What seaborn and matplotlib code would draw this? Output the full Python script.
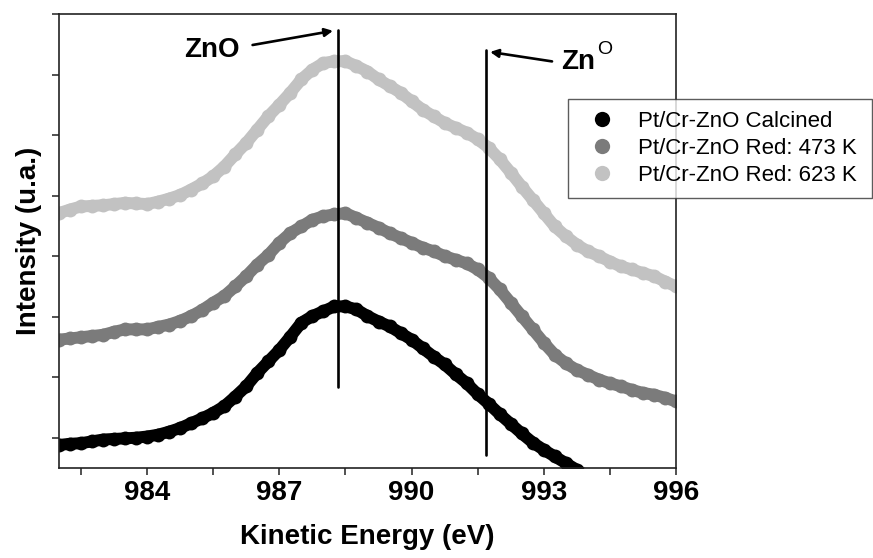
import numpy as np
import pandas as pd
import seaborn as sns
import matplotlib
matplotlib.use("Agg")
import matplotlib.pyplot as plt
from matplotlib.lines import Line2D

# Kinetic energy grid (eV) and normalised, vertically offset intensities
energy = np.arange(982.0, 996.01, 0.25)

calcined = [-0.12, -0.10, -0.09, -0.06, -0.03, -0.02, -0.01, 0.00, 0.02, 0.05,
            0.10, 0.16, 0.24, 0.32, 0.41, 0.52, 0.68, 0.85, 1.07, 1.26,
            1.45, 1.67, 1.90, 2.01, 2.09, 2.17, 2.17, 2.12, 2.01, 1.92,
            1.84, 1.73, 1.62, 1.48, 1.34, 1.21, 1.05, 0.90, 0.72, 0.56,
            0.39, 0.23, 0.07, -0.08, -0.20, -0.31, -0.42, -0.53, -0.65]
red_473 = [1.62, 1.64, 1.66, 1.68, 1.70, 1.75, 1.79, 1.79, 1.79, 1.83,
           1.87, 1.93, 2.01, 2.11, 2.23, 2.34, 2.50, 2.67, 2.86, 3.02,
           3.22, 3.38, 3.49, 3.60, 3.66, 3.69, 3.71, 3.63, 3.55, 3.47,
           3.38, 3.30, 3.22, 3.14, 3.08, 3.00, 2.94, 2.88, 2.78, 2.64,
           2.45, 2.23, 2.01, 1.79, 1.57, 1.37, 1.23, 1.12, 1.04, 0.96,
           0.90, 0.85, 0.79, 0.74, 0.71, 0.66, 0.60]
red_623 = [3.71, 3.77, 3.82, 3.83, 3.84, 3.86, 3.88, 3.87, 3.86, 3.90,
           3.95, 4.01, 4.10, 4.20, 4.32, 4.48, 4.68, 4.87, 5.09, 5.31,
           5.50, 5.70, 5.92, 6.08, 6.19, 6.22, 6.22, 6.14, 6.05, 5.92,
           5.81, 5.70, 5.56, 5.42, 5.31, 5.20, 5.12, 5.04, 4.93, 4.79,
           4.60, 4.38, 4.15, 3.93, 3.71, 3.49, 3.33, 3.19, 3.08, 3.00,
           2.91, 2.83, 2.78, 2.72, 2.67, 2.58, 2.50]

labels = ["Pt/Cr-ZnO Calcined", "Pt/Cr-ZnO Red: 473 K", "Pt/Cr-ZnO Red: 623 K"]
colors = ["#000000", "#7b7b7b", "#c2c2c2"]

frames = []
for lab, vals in zip(labels, [calcined, red_473, red_623]):
    frames.append(pd.DataFrame({"energy": energy[:len(vals)], "intensity": vals, "sample": lab}))
df = pd.concat(frames, ignore_index=True)

sns.set_style("ticks")
plt.rcParams["font.family"] = ["Liberation Sans", "DejaVu Sans"]
plt.rcParams.update({"text.color": "black", "axes.labelcolor": "black",
                     "xtick.color": "black", "ytick.color": "black",
                     "axes.edgecolor": "#222222"})

fig = plt.figure(figsize=(8.73, 5.58), dpi=100)
ax = fig.add_axes([0.0676, 0.1613, 0.7067, 0.8136])

sns.lineplot(data=df, x="energy", y="intensity", hue="sample",
             palette=dict(zip(labels, colors)), hue_order=labels[::-1],
             marker="o", markersize=10, markeredgewidth=0, linewidth=8.6,
             solid_capstyle="round", solid_joinstyle="round",
             sort=True, legend=False, ax=ax)

ax.set_xlim(982, 996)
ax.set_ylim(-0.5, 7)
ax.set_xticks([984, 987, 990, 993, 996])
ax.set_xticks(np.arange(982.5, 996, 1.5), minor=True)
ax.set_yticks(np.arange(0, 8, 1))
ax.set_yticklabels([])
ax.tick_params(axis="both", which="both", direction="out", length=5, width=1.1,
               color="#222222", labelcolor="black")
ax.tick_params(axis="x", labelsize=20)
for t in ax.get_xticklabels():
    t.set_fontweight("bold")
for s in ax.spines.values():
    s.set_linewidth(1.2)
    s.set_color("#222222")

ax.set_xlabel("Kinetic Energy (eV)", fontsize=20, fontweight="bold", labelpad=13)
ax.set_ylabel("Intensity (u.a.)", fontsize=20, fontweight="bold", labelpad=4)

# Reference energies for oxide and metallic zinc
ax.plot([988.33, 988.33], [0.84, 6.73], color="black", lw=1.9, zorder=5)
ax.plot([991.68, 991.68], [-0.28, 6.40], color="black", lw=1.9, zorder=5)

ax.annotate("", xy=(988.28, 6.73), xytext=(986.33, 6.48),
            arrowprops=dict(arrowstyle="-|>", color="black", lw=1.9, mutation_scale=12))
ax.text(985.47, 6.41, "ZnO", fontsize=20, fontweight="bold", ha="center", va="center")

ax.annotate("", xy=(991.72, 6.38), xytext=(993.25, 6.21),
            arrowprops=dict(arrowstyle="-|>", color="black", lw=1.9, mutation_scale=12))
ax.text(993.78, 6.20, "Zn", fontsize=20, fontweight="bold", ha="center", va="center")
ax.text(994.38, 6.42, "O", fontsize=14, ha="center", va="center")

handles = [Line2D([], [], linestyle="none", marker="o", markersize=11,
                  markerfacecolor=c, markeredgewidth=0) for c in colors]
leg = fig.legend(handles, labels, loc="upper left",
                 bbox_to_anchor=(0.6506, 0.6434, 0.3483, 0.1792), mode="expand",
                 borderaxespad=0, fontsize=16, frameon=True, fancybox=False,
                 handletextpad=0.6, labelspacing=0.26, borderpad=0.55,
                 handlelength=2.0)
leg.get_frame().set_edgecolor("#333333")
leg.get_frame().set_linewidth(1.0)

fig.savefig("out.png", dpi=100)
